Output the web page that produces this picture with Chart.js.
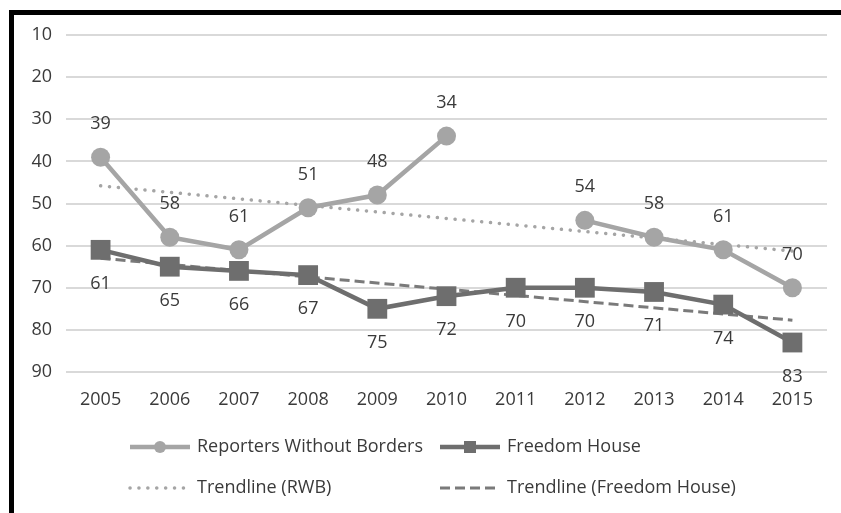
<!DOCTYPE html>
<html>
<head>
<meta charset="utf-8">
<script src="https://cdn.jsdelivr.net/npm/chart.js@4.4.1/dist/chart.umd.min.js"></script>
<style>
  html, body { margin: 0; padding: 0; background: #fff; }
  #wrap { position: relative; width: 841px; height: 513px; }
  #frame { position: absolute; left: 9px; top: 10px; right: 0; bottom: 0;
           border-top: 5px solid #000; border-left: 5px solid #000; pointer-events: none; }
  canvas { position: absolute; left: 0; top: 0; }
</style>
</head>
<body>
<div id="wrap">
  <canvas id="main" width="841" height="513"></canvas>
  <div id="frame"></div>
</div>
<script>
// years on the x axis
const years = ['2005', '2006', '2007', '2008', '2009', '2010', '2011', '2012', '2013', '2014', '2015'];

// ranks (2011 has no RWB value)
const rwb = [39, 58, 61, 51, 48, 34, null, 54, 58, 61, 70];
const freedomHouse = [61, 65, 66, 67, 75, 72, 70, 70, 71, 74, 83];

// trendline end points
const trendRwb = [45.8, null, null, null, null, null, null, null, null, null, 61.3];
const trendFh = [63.0, null, null, null, null, null, null, null, null, null, 77.7];

const yTicks = [10, 20, 30, 40, 50, 60, 70, 80, 90];

const FONT = '"Open Sans", "Noto Sans", sans-serif';
const FSIZE = 18;
const TEXT = '#3a3a3a';
const LIGHT = '#a5a5a5';
const DARK = '#6e6e6e';

// value labels above RWB points, below Freedom House points
const valueLabels = {
    id: 'valueLabels',
    afterDatasetsDraw(chart) {
        const ctx = chart.ctx;
        ctx.save();
        ctx.font = FSIZE + 'px ' + FONT;
        ctx.fillStyle = TEXT;
        ctx.textAlign = 'center';
        ctx.textBaseline = 'middle';
        [0, 1].forEach(function(di) {
            const ds = chart.data.datasets[di];
            const meta = chart.getDatasetMeta(di);
            meta.data.forEach(function(pt, i) {
                if (ds.data[i] == null) return;
                const dy = di === 0 ? -33 : 34;
                ctx.fillText(String(ds.data[i]), pt.x, pt.y + dy);
            });
        });
        ctx.restore();
    }
};

// two-row legend like the original
const customLegend = {
    id: 'customLegend',
    afterDraw(chart) {
        const ctx = chart.ctx;
        const items = [
            { x: 130, y: 447, ds: 0, marker: 'circle' },
            { x: 440, y: 447, ds: 1, marker: 'square' },
            { x: 130, y: 488, ds: 2 },
            { x: 440, y: 488, ds: 3 }
        ];
        ctx.save();
        items.forEach(function(it) {
            const ds = chart.data.datasets[it.ds];
            ctx.strokeStyle = ds.borderColor;
            ctx.lineWidth = ds.borderWidth;
            ctx.lineCap = ds.borderCapStyle || 'butt';
            ctx.setLineDash(ds.borderDash || []);
            ctx.beginPath();
            ctx.moveTo(it.x, it.y);
            ctx.lineTo(it.x + 60, it.y);
            ctx.stroke();
            ctx.setLineDash([]);
            ctx.fillStyle = ds.borderColor;
            if (it.marker === 'circle') {
                ctx.beginPath();
                ctx.arc(it.x + 30, it.y, 6, 0, Math.PI * 2);
                ctx.fill();
            } else if (it.marker === 'square') {
                ctx.fillRect(it.x + 30 - 6, it.y - 6, 12, 12);
            }
            ctx.font = FSIZE + 'px ' + FONT;
            ctx.fillStyle = TEXT;
            ctx.textAlign = 'left';
            ctx.textBaseline = 'middle';
            ctx.fillText(ds.label, it.x + 67, it.y);
        });
        ctx.restore();
    }
};

window.onload = function() {
    var main = document.getElementById('main').getContext('2d');
    var myChart = new Chart(main, {
        type: 'line',
        data: {
            labels: years,
            datasets: [{
                label: 'Reporters Without Borders',
                data: rwb,
                borderColor: LIGHT,
                backgroundColor: LIGHT,
                borderWidth: 4.5,
                pointStyle: 'circle',
                pointRadius: 9.5,
                pointBorderWidth: 0,
                spanGaps: false,
                tension: 0
            }, {
                label: 'Freedom House',
                data: freedomHouse,
                borderColor: DARK,
                backgroundColor: DARK,
                borderWidth: 4.5,
                pointStyle: 'rect',
                pointRadius: 14,
                pointBorderWidth: 0,
                tension: 0
            }, {
                label: 'Trendline (RWB)',
                data: trendRwb,
                borderColor: LIGHT,
                borderWidth: 3.5,
                borderDash: [0.1, 8.8],
                borderCapStyle: 'round',
                pointRadius: 0,
                spanGaps: true
            }, {
                label: 'Trendline (Freedom House)',
                data: trendFh,
                borderColor: '#7a7a7a',
                borderWidth: 3,
                borderDash: [10, 5],
                pointRadius: 0,
                spanGaps: true
            }]
        },
        options: {
            responsive: false,
            animation: false,
            layout: { padding: { left: 18, right: 13, top: 35, bottom: 101 } },
            plugins: {
                legend: { display: false },
                tooltip: { enabled: false }
            },
            scales: {
                x: {
                    offset: true,
                    grid: { display: false, drawTicks: false, offset: true },
                    border: { display: false },
                    ticks: { color: TEXT, font: { family: FONT, size: FSIZE }, padding: 17, maxRotation: 0 },
                    afterFit: function(s) { s.height = 40; }
                },
                y: {
                    reverse: true,
                    min: 10,
                    max: 90,
                    afterBuildTicks: function(s) { s.ticks = yTicks.map(function(v) { return { value: v }; }); },
                    grid: { color: '#d9d9d9', lineWidth: 2, drawTicks: false },
                    border: { display: false },
                    ticks: { color: TEXT, font: { family: FONT, size: FSIZE }, padding: 14 },
                    afterFit: function(s) { s.width = 48; }
                }
            }
        },
        plugins: [valueLabels, customLegend]
    });
};
</script>
</body>
</html>
